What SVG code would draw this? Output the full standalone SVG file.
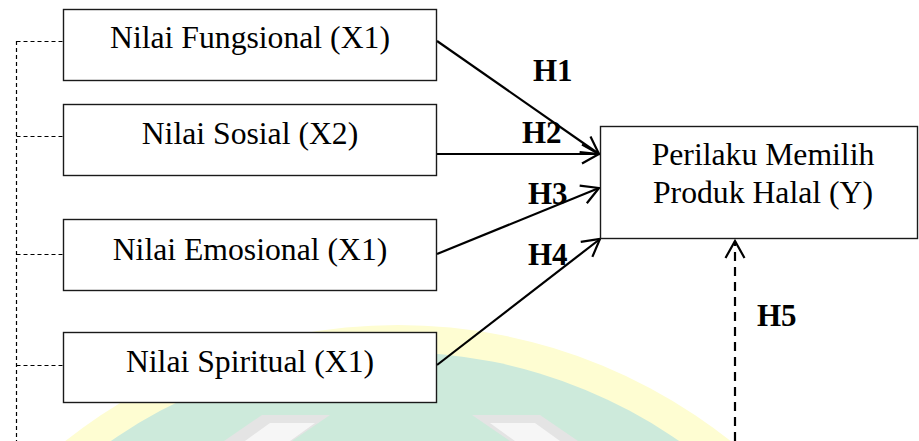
<svg xmlns="http://www.w3.org/2000/svg" width="919" height="441" viewBox="0 0 919 441">
  <style>
    .box{fill:#fff;stroke:#1a1a1a;stroke-width:1.4}
    .lbl{font-family:"Liberation Serif","Times New Roman",serif;font-size:31.7px;fill:#000;text-anchor:middle}
    .h{font-family:"Liberation Serif","Times New Roman",serif;font-size:31px;font-weight:bold;fill:#000}
    .conn{stroke:#000;stroke-width:2.2;fill:none}
    .dash{stroke:#000;stroke-width:1.2;fill:none;stroke-dasharray:4 3}
    .dashb{stroke:#000;stroke-width:2.2;fill:none;stroke-dasharray:9 6}
  </style>
  <defs>
    <marker id="arr" markerUnits="userSpaceOnUse" markerWidth="30" markerHeight="30" refX="20" refY="15" orient="auto" viewBox="0 0 30 30">
      <path d="M3,5.5 L20,15 L3,24.5" fill="none" stroke="#000" stroke-width="2.2"/>
    </marker>
  </defs>
  <rect width="919" height="441" fill="#fff"/>
  <g id="watermark">
    <circle cx="398" cy="860" r="535" fill="#fefdd2"/>
    <circle cx="395" cy="850" r="498" fill="#cdeadb"/>
    <polygon points="224,441 262,415 330,415 292,441" fill="#e4e4e4"/>
    <polygon points="245,441 270,423 315,423 290,441" fill="#f6f6f6"/>
    <polygon points="472,415 540,415 578,441 510,441" fill="#e4e4e4"/>
    <polygon points="490,423 535,423 560,441 515,441" fill="#f6f6f6"/>
  </g>
  <g id="connectors">
    <path class="dash" d="M16.5,41 V441 M16.5,41.5 H63 M16.5,136.5 H63 M16.5,254.5 H63 M16.5,365.5 H63"/>
    <line class="conn" x1="437" y1="41" x2="599" y2="154" marker-end="url(#arr)"/>
    <line class="conn" x1="437" y1="154" x2="599" y2="154" marker-end="url(#arr)"/>
    <line class="conn" x1="437" y1="254" x2="599" y2="188" marker-end="url(#arr)"/>
    <line class="conn" x1="437" y1="365" x2="600" y2="239" marker-end="url(#arr)"/>
    <line class="dashb" x1="735" y1="441" x2="735" y2="241" marker-end="url(#arr)"/>
    <text class="h" x="533" y="81">H1</text>
    <text class="h" x="522" y="143">H2</text>
    <text class="h" x="528" y="204">H3</text>
    <text class="h" x="528" y="265">H4</text>
    <text class="h" x="757" y="326">H5</text>
  </g>
  <g id="x1">
    <rect class="box" x="63.5" y="9.5" width="373" height="71"/>
    <text class="lbl" x="250" y="48">Nilai Fungsional (X1)</text>
  </g>
  <g id="x2">
    <rect class="box" x="63.5" y="104.5" width="373" height="71"/>
    <text class="lbl" x="250" y="144">Nilai Sosial (X2)</text>
  </g>
  <g id="x3">
    <rect class="box" x="63.5" y="219.5" width="373" height="71"/>
    <text class="lbl" x="250" y="260">Nilai Emosional (X1)</text>
  </g>
  <g id="x4">
    <rect class="box" x="63.5" y="332.5" width="373" height="70"/>
    <text class="lbl" x="250" y="372">Nilai Spiritual (X1)</text>
  </g>
  <g id="y">
    <rect class="box" x="600.5" y="126.5" width="317" height="112"/>
    <text class="lbl" x="763" y="165">Perilaku Memilih</text>
    <text class="lbl" x="763" y="203">Produk Halal (Y)</text>
  </g>
</svg>
